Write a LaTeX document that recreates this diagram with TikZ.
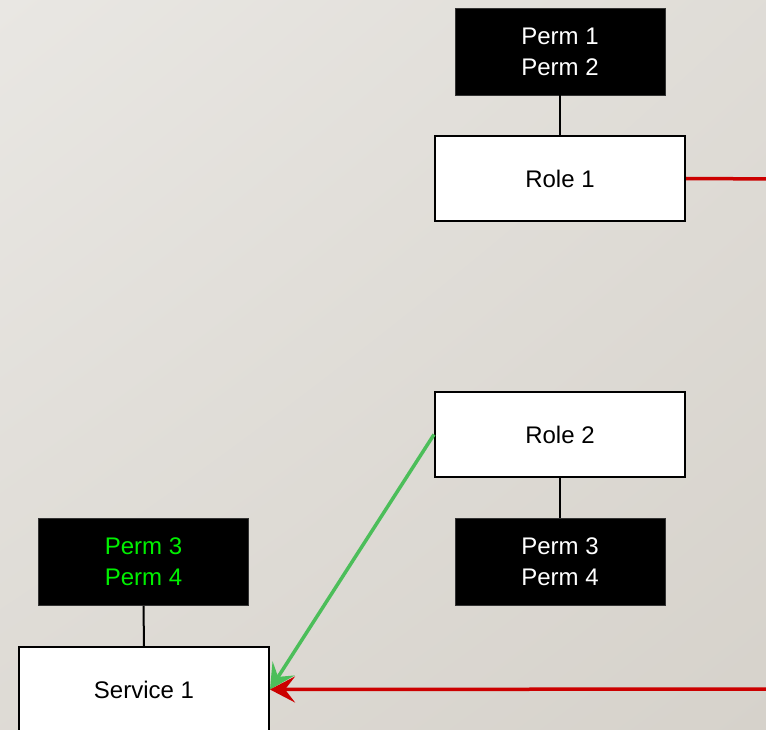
\documentclass[tikz,border=0pt]{standalone}
\usepackage{fontspec}
\setmainfont{Liberation Sans}
\usetikzlibrary{arrows.meta,shadings}
\definecolor{bgA}{RGB}{233,231,227}
\definecolor{bgB}{RGB}{214,210,203}
\definecolor{linkred}{RGB}{204,0,0}
\definecolor{linkgreen}{RGB}{76,190,90}
\definecolor{permgreen}{RGB}{0,240,0}
\tikzset{
  txt/.style={font=\fontsize{24}{31}\selectfont, align=center, inner sep=0pt},
  rolebox/.style={txt, draw=black, line width=2pt, fill=white,
    minimum width=250pt, minimum height=85pt},
  permbox/.style={txt, draw=black!80, line width=0.8pt, fill=black, text=white,
    minimum width=210pt, minimum height=87pt},
  tie/.style={draw=black, line width=2pt},
  link/.style={line width=3.5pt, -{Stealth[length=25pt, width=26pt, inset=10pt]}},
}
\begin{document}
\begin{tikzpicture}[x=1pt, y=-1pt]
  % canvas with a soft diagonal gradient
  \useasboundingbox (0,0) rectangle (766,730);
  \clip (0,0) rectangle (766,730);
  \shade[upper left=bgA, upper right=bgA!50!bgB, lower left=bgA!40!bgB, lower right=bgB]
    (0,0) rectangle (766,730);

  % permission sets and roles
  \node[permbox] (p12) at (560,51.5) {Perm 1\\Perm 2};
  \node[rolebox] (r1) at (560,178.5) {Role 1};
  \node[rolebox] (r2) at (560,434.5) {Role 2};
  \node[permbox] (p34r) at (560,562) {Perm 3\\Perm 4};
  \node[permbox, text=permgreen] (p34l) at (143.5,562) {Perm 3\\Perm 4};
  \node[rolebox] (svc) at (144,689.5) {Service 1};

  % links leaving the visible area
  \coordinate (r1out) at (780,179);
  \coordinate (svcin) at (780,689);

  % ties between permissions and their owners
  \draw[tie] (p12.south) -- (r1.north);
  \draw[tie] (r2.south) -- (p34r.north);
  \draw[tie] (p34l.south) -- (svc.north);

  % grants
  \draw[linkred, line width=3.5pt] (r1.east) -- (r1out);
  \draw[link, linkgreen] (r2.west) -- (svc.east);
  \draw[link, linkred] (svcin) -- (svc.east);
\end{tikzpicture}
\end{document}
